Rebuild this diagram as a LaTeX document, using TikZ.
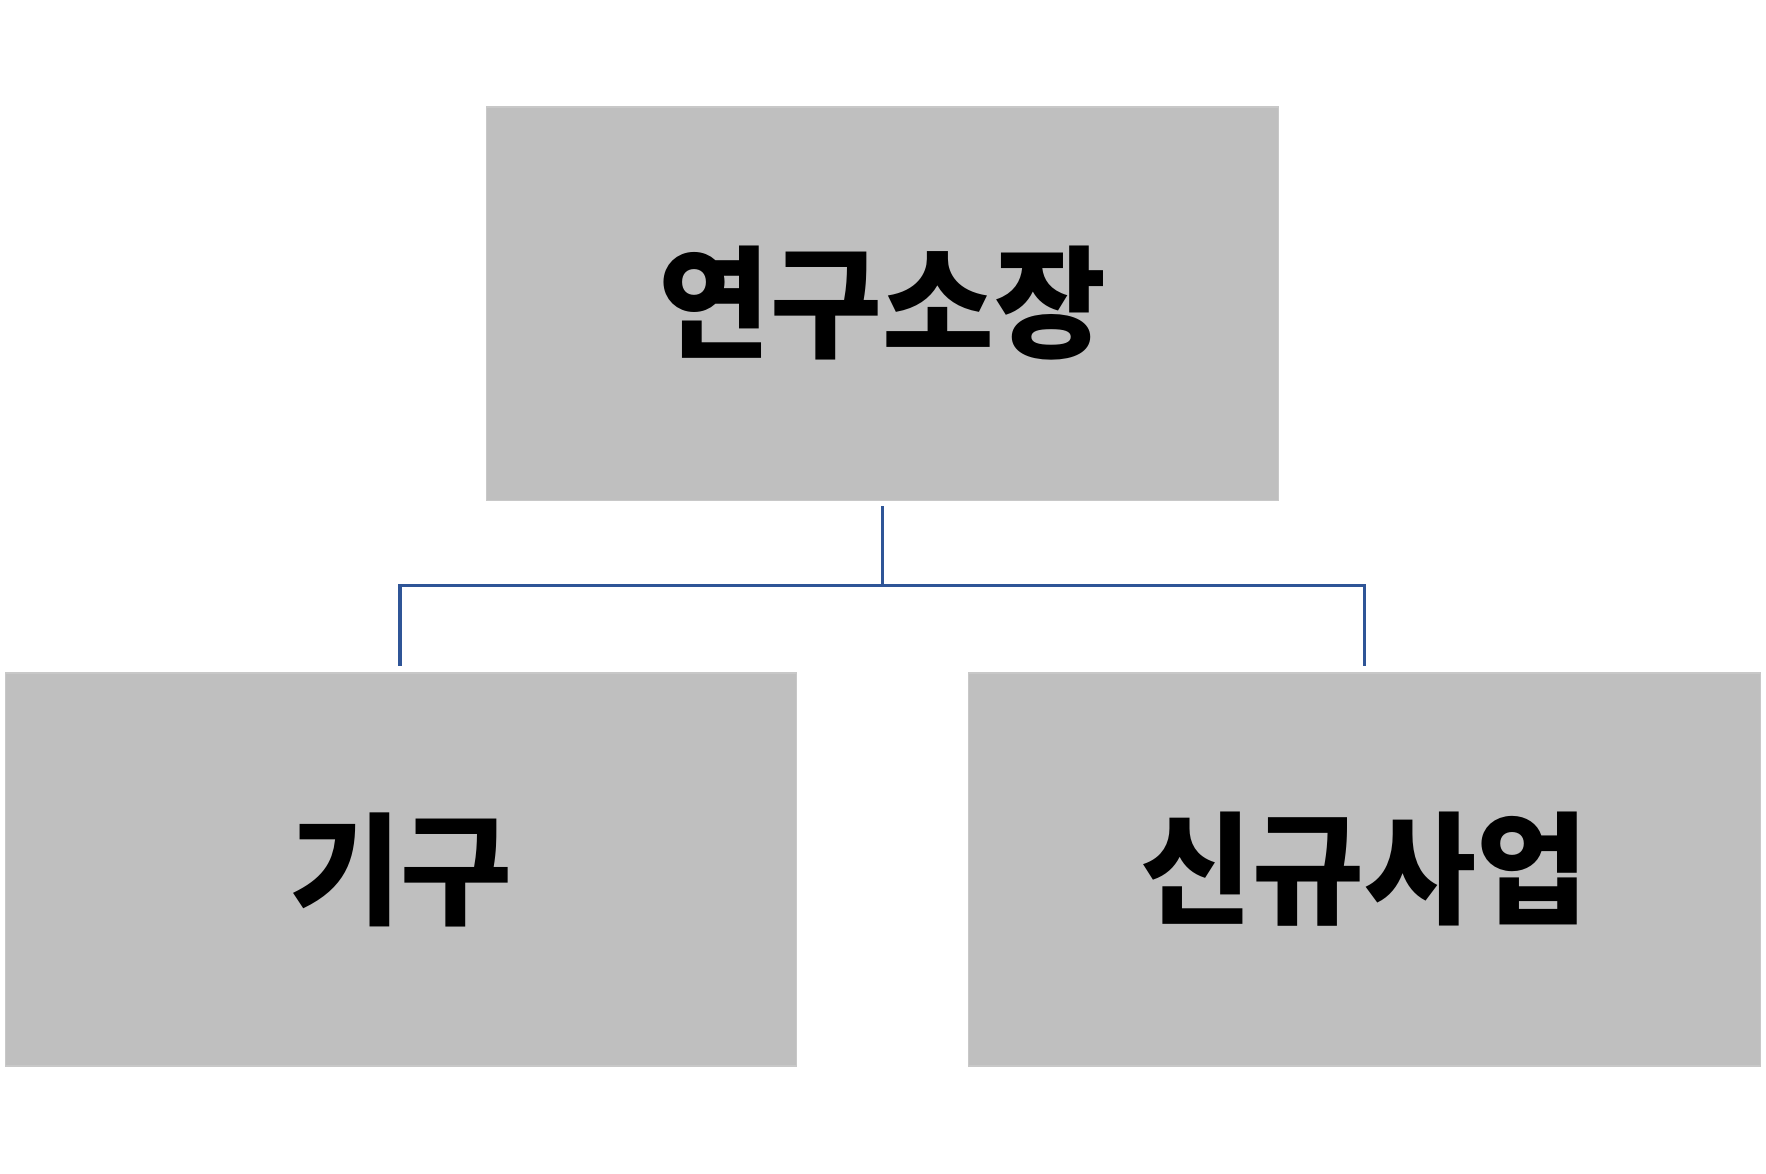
\documentclass[tikz,border=0pt]{standalone}
\usepackage{fontspec}
\newfontfamily\kr{Noto Sans CJK KR}
\begin{document}
\begin{tikzpicture}[x=1pt,y=-1pt,
  box/.style={fill={rgb,255:red,191;green,191;blue,191},draw={rgb,255:red,200;green,200;blue,200},line width=1pt,minimum width=703pt,minimum height=349pt,inner sep=0pt,font=\kr\bfseries\fontsize{108}{120}\selectfont},
  conn/.style={draw={rgb,255:red,47;green,85;blue,151},line width=3pt}]
\useasboundingbox (0,0) rectangle (1568,1042);
\node[box] (top) at (783.5,269.5) {연구소장};
\node[box] (l) at (356,772) {기구};
\node[box] (r) at (1211.5,772) {신규사업};
\coordinate (j) at (783.5,520);
\draw[conn] ([yshift=-5pt]top.south) -- (j) -| ([xshift=-1pt,yshift=6pt]l.north);
\draw[conn] (j) -| ([yshift=6pt]r.north);
\end{tikzpicture}
\end{document}
